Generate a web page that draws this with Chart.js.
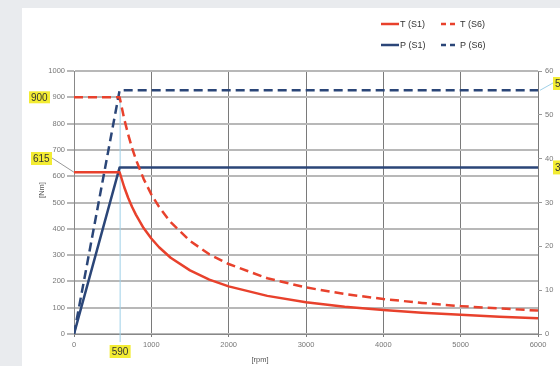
<!DOCTYPE html>
<html>
<head>
<meta charset="utf-8">
<script src="https://cdn.jsdelivr.net/npm/chart.js@4/dist/chart.umd.min.js"></script>
<style>
  html, body { margin: 0; padding: 0; background: #e9ebee; }
  #wrap { position: relative; width: 560px; height: 366px; }
</style>
</head>
<body>
<div id="wrap"><canvas id="chart" width="560" height="366"></canvas></div>
<script>
// torque curves [rpm, Nm]
const rpmT = [0, 590, 650, 700, 750, 800, 900, 1000, 1100, 1250, 1500, 1750, 2000, 2500, 3000, 3500, 4000, 4500, 5000, 5500, 6000];
const torqueS1 = [615, 615, 558, 518, 484, 454, 403, 363, 330, 290, 242, 207, 181, 145, 121, 104, 91, 81, 73, 66, 60];
const torqueS6 = [900, 900, 817, 759, 708, 664, 590, 531, 483, 425, 354, 303, 266, 212, 177, 152, 133, 118, 106, 97, 89];
// power curves [rpm, kW]
const rpmP = [0, 590, 6000];
const powerS1 = [0, 38, 38];
const powerS6 = [0, 55.6, 55.6];

const cornerRpm = 590;
const fontName = '"Liberation Sans", Arial, sans-serif';
const red = '#e8412c';
const navy = '#2b4678';

const pts = (xs, ys) => xs.map((x, i) => ({x: x, y: ys[i]}));

const bgPlugin = {
    id: 'bg',
    beforeDraw(chart) {
        const c = chart.ctx;
        c.save();
        c.fillStyle = '#e9ebee';
        c.fillRect(0, 0, chart.width, chart.height);
        c.fillStyle = '#ffffff';
        c.fillRect(22, 8, chart.width - 22, chart.height - 8);
        c.restore();
    },
    beforeDatasetsDraw(chart) {
        const c = chart.ctx;
        const x = chart.scales.x.getPixelForValue(cornerRpm);
        const yTop = chart.scales.y.getPixelForValue(900);
        c.save();
        c.strokeStyle = '#9fd0e8';
        c.lineWidth = 1;
        c.beginPath();
        c.moveTo(x + 0.5, yTop);
        c.lineTo(x + 0.5, chart.chartArea.bottom + 8);
        c.stroke();
        c.restore();
    }
};

function tag(c, text, x, y, w, h) {
    c.fillStyle = '#f3ec33';
    c.fillRect(x, y, w, h);
    c.fillStyle = '#333';
    c.font = '10px ' + fontName;
    c.textAlign = 'left';
    c.textBaseline = 'middle';
    c.fillText(text, x + 2, y + h / 2 + 0.5);
}

const notePlugin = {
    id: 'notes',
    afterDraw(chart) {
        const c = chart.ctx;
        const sx = chart.scales.x, sy = chart.scales.y, sp = chart.scales.y1;
        const area = chart.chartArea;
        c.save();

        // axis titles
        c.fillStyle = '#555';
        c.font = '7.5px ' + fontName;
        c.textAlign = 'center';
        c.textBaseline = 'middle';
        c.fillText('[rpm]', 260, 360);
        c.save();
        c.translate(42, 190);
        c.rotate(-Math.PI / 2);
        c.fillText('[Nm]', 0, 0);
        c.restore();

        // leader lines
        const y615 = sy.getPixelForValue(615);
        c.strokeStyle = '#999';
        c.lineWidth = 1;
        c.beginPath();
        c.moveTo(52, 158);
        c.lineTo(area.left, y615);
        c.stroke();

        const y56 = sp.getPixelForValue(55.6);
        c.strokeStyle = '#9fd0e8';
        c.beginPath();
        c.moveTo(area.right + 2, y56);
        c.lineTo(553, 83);
        c.stroke();

        // yellow value tags
        const y900 = sy.getPixelForValue(900);
        tag(c, '900', 29, y900 - 6, 21, 12);
        tag(c, '615', 31, 152, 21, 13);
        const x590 = sx.getPixelForValue(cornerRpm);
        tag(c, '590', x590 - 10, 345, 21, 13);
        tag(c, '56', 553, 77, 20, 13);
        const y38 = sp.getPixelForValue(38);
        tag(c, '38', 553, y38 - 7, 20, 14);

        // legend, two rows
        const items = [
            {t: 'T (S1)', col: red, dash: [], x: 381, y: 24},
            {t: 'T (S6)', col: red, dash: [5, 4], x: 441, y: 24},
            {t: 'P (S1)', col: navy, dash: [], x: 381, y: 45},
            {t: 'P (S6)', col: navy, dash: [5, 4], x: 441, y: 45}
        ];
        c.font = '9px ' + fontName;
        c.textAlign = 'left';
        items.forEach(it => {
            c.strokeStyle = it.col;
            c.lineWidth = 2.5;
            c.setLineDash(it.dash);
            c.beginPath();
            c.moveTo(it.x, it.y);
            c.lineTo(it.x + 18, it.y);
            c.stroke();
            c.setLineDash([]);
            c.fillStyle = '#333';
            c.fillText(it.t, it.x + 19, it.y + 0.5);
        });
        c.restore();
    }
};

const plain = v => String(v);

const ctx = document.querySelector('#chart').getContext('2d');
const chart = new Chart(ctx, {
    type: 'line',
    data: {
        datasets: [
            {label: 'T (S1)', data: pts(rpmT, torqueS1), yAxisID: 'y', borderColor: red, borderWidth: 2.5},
            {label: 'T (S6)', data: pts(rpmT, torqueS6), yAxisID: 'y', borderColor: red, borderWidth: 2.5, borderDash: [9, 5]},
            {label: 'P (S1)', data: pts(rpmP, powerS1), yAxisID: 'y1', borderColor: navy, borderWidth: 2.5},
            {label: 'P (S6)', data: pts(rpmP, powerS6), yAxisID: 'y1', borderColor: navy, borderWidth: 2.5, borderDash: [9, 5]}
        ]
    },
    options: {
        responsive: false,
        animation: false,
        elements: {point: {radius: 0}, line: {borderJoinStyle: 'round'}},
        layout: {padding: {top: 71, left: 0, right: 0, bottom: 0}},
        plugins: {legend: {display: false}, tooltip: {enabled: false}},
        scales: {
            x: {
                type: 'linear', min: 0, max: 6000,
                ticks: {stepSize: 1000, color: '#777', font: {size: 7.5, family: fontName}, padding: 3, maxRotation: 0, callback: plain},
                grid: {color: '#7a7a7a', lineWidth: 1, tickLength: 3},
                border: {color: '#888'},
                afterFit(s) { s.height = 32; }
            },
            y: {
                position: 'left', min: 0, max: 1000,
                ticks: {stepSize: 100, color: '#777', font: {size: 7.5, family: fontName}, padding: 2, callback: plain},
                grid: {color: '#b8b8b8', lineWidth: 2, tickLength: 7},
                border: {color: '#888'},
                afterFit(s) { s.width = 74; }
            },
            y1: {
                position: 'right', min: 0, max: 60,
                ticks: {stepSize: 10, color: '#777', font: {size: 7.5, family: fontName}, padding: 3, callback: plain},
                grid: {drawOnChartArea: false, color: '#999', tickLength: 4},
                border: {display: false},
                afterFit(s) { s.width = 22; }
            }
        }
    },
    plugins: [bgPlugin, notePlugin]
});
</script>
</body>
</html>
